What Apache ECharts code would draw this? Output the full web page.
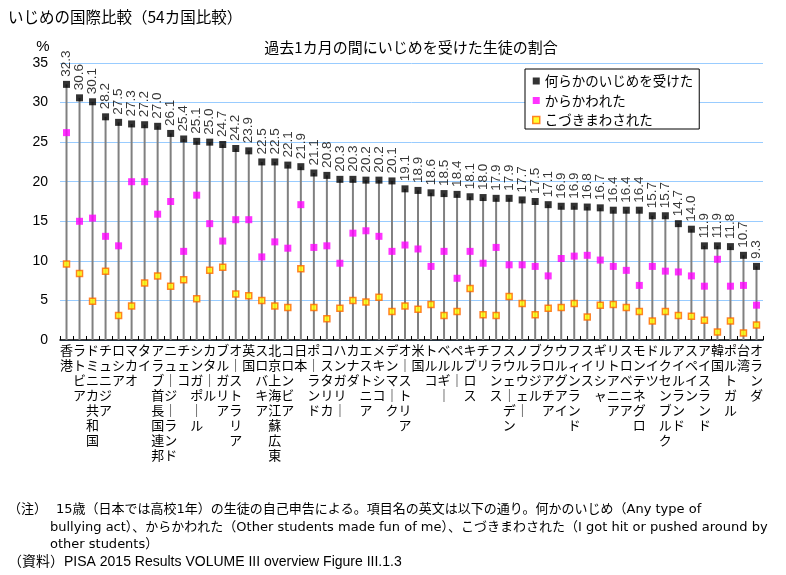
<!DOCTYPE html>
<html>
<head>
<meta charset="utf-8">
<script src="https://cdn.jsdelivr.net/npm/echarts@6/dist/echarts.min.js"></script>
<style>
html,body{margin:0;padding:0;background:#fff;}
#c{width:786px;height:575px;}
</style>
</head>
<body>
<div id="c"></div>
<script>
const categories = ['香港','ラトビア','ドミニカ共和国','チュニジア','ロシア','マカオ','タイ','アラブ首長国連邦','ニュージーランド','チェコ','シンガポール','カタール','ブルガリア','オーストラリア','英国','スロバキア','北京上海江蘇広東','コロンビア','日本','ポーランド','コスタリカ','ハンガリー','カナダ','エストニア','メキシコ','デンマーク','オーストリア','米国','トルコ','ベルギー','ペルー','キプロス','チリ','フランス','スウェーデン','ノルウェー','ブラジル','クロアチア','ウルグアイ','フィンランド','スイス','ギリシャ','リトアニア','スロベニア','モンテネグロ','ドイツ','ルクセンブルク','アイルランド','スペイン','アイスランド','韓国','ポルトガル','台湾','オランダ'];
const anyBullying = [32.3,30.6,30.1,28.2,27.5,27.3,27.2,27.0,26.1,25.4,25.1,25.0,24.7,24.2,23.9,22.5,22.5,22.1,21.9,21.1,20.8,20.3,20.3,20.2,20.2,20.1,19.1,18.9,18.6,18.5,18.4,18.1,18.0,17.9,17.9,17.7,17.5,17.1,16.9,16.9,16.8,16.7,16.4,16.4,16.4,15.7,15.7,14.7,14.0,11.9,11.9,11.8,10.7,9.3];
const madeFun = [26.2,15.0,15.4,13.1,11.9,20.0,20.0,15.9,17.5,11.2,18.3,14.7,12.5,15.2,15.2,10.5,12.4,11.6,17.1,11.7,11.9,9.7,13.5,13.8,13.1,11.2,12.0,11.5,9.3,11.2,7.8,11.2,9.7,11.7,9.5,9.5,9.3,8.1,10.3,10.6,10.7,10.1,9.3,8.8,6.9,9.3,8.7,8.6,8.1,6.8,10.2,6.8,6.9,4.4];
const hitPushed = [9.6,8.4,4.9,8.7,3.1,4.3,7.2,8.1,6.8,7.6,5.2,8.8,9.2,5.8,5.6,5.0,4.3,4.1,9.0,4.1,2.7,4.0,5.0,4.8,5.4,3.6,4.3,3.9,4.5,3.1,3.6,6.5,3.2,3.1,5.5,4.6,3.2,4.0,4.1,4.6,2.9,4.4,4.5,4.1,3.6,2.4,3.6,3.1,3.0,2.5,1.0,2.4,0.9,1.9];
const seriesNames = ['何らかのいじめを受けた','からかわれた','こづきまわされた'];
const yTicks = {min:0, max:35, interval:5};

const FONT = '"Liberation Sans","Noto Sans CJK JP",sans-serif';
const JFONT = '"Noto Sans CJK JP",sans-serif';
const NFONT = '13px "DejaVu Sans","Noto Sans CJK JP"';

const chart = echarts.init(document.getElementById('c'), null, {renderer:'canvas'});
chart.setOption({
  animation:false,
  backgroundColor:'#fff',
  textStyle:{fontFamily:FONT},
  grid:{left:60, right:23, top:63, bottom:235, containLabel:false},
  legend:{
    orient:'vertical', left:525, top:69,
    padding:[5,6,2,7], itemGap:5.5,
    itemWidth:7, itemHeight:7,
    backgroundColor:'#fff', borderColor:'#000', borderWidth:1, borderRadius:0,
    textStyle:{fontFamily:JFONT, fontSize:13.5, color:'#000', lineHeight:14},
    data:[
      {name:seriesNames[0], icon:'rect'},
      {name:seriesNames[1], icon:'rect'},
      {name:seriesNames[2], icon:'rect', itemStyle:{color:'#ffff00', borderColor:'#ff6600', borderWidth:1.5}}
    ]
  },
  xAxis:{
    type:'category', data:categories, boundaryGap:true,
    axisLine:{lineStyle:{color:'#000', width:1.5}},
    axisTick:{show:true, inside:true, length:4, interval:0, lineStyle:{color:'#000'}},
    axisLabel:{interval:0, margin:3, fontFamily:JFONT, fontSize:13, lineHeight:15, color:'#000',
      verticalAlign:'top',
      formatter:v => v.split('').map(c => c === 'ー' ? '｜' : c).join('\n')}
  },
  yAxis:{
    type:'value', min:yTicks.min, max:yTicks.max, interval:yTicks.interval,
    axisLine:{show:false}, axisTick:{show:false},
    axisLabel:{fontSize:14, color:'#000', margin:12, fontFamily:FONT},
    splitLine:{lineStyle:{color:'#99ccff', width:1}}
  },
  graphic:[
    {type:'text', left:8, top:9, style:{text:'いじめの国際比較（54カ国比較）', font:'15.5px "Noto Sans CJK JP"', fill:'#000'}},
    {type:'text', x:411, y:47, style:{text:'過去1カ月の間にいじめを受けた生徒の割合', font:'15px "Noto Sans CJK JP"', fill:'#000', textAlign:'center', textVerticalAlign:'middle'}},
    {type:'text', x:43, y:47, style:{text:'%', font:'15px "Liberation Sans"', fill:'#000', textAlign:'center', textVerticalAlign:'middle'}},
    {type:'text', x:8, y:510, style:{text:'（注）', font:NFONT, fill:'#000', textVerticalAlign:'middle'}},
    {type:'text', x:56, y:510, style:{text:'15歳（日本では高校1年）の生徒の自己申告による。項目名の英文は以下の通り。何かのいじめ（Any type of', font:NFONT, fill:'#000', textVerticalAlign:'middle'}},
    {type:'text', x:50, y:528, style:{text:'bullying act）、からかわれた（Other students made fun of me）、こづきまわされた（I got hit or pushed around by', font:NFONT, fill:'#000', textVerticalAlign:'middle'}},
    {type:'text', x:50, y:545, style:{text:'other students）', font:NFONT, fill:'#000', textVerticalAlign:'middle'}},
    {type:'text', x:8, y:562, style:{text:'（資料）PISA 2015 Results VOLUME III overview Figure III.1.3', font:'14px "Liberation Sans","Noto Sans CJK JP"', fill:'#000', textVerticalAlign:'middle'}}
  ],
  series:[
    {type:'bar', name:'drop', data:anyBullying, barWidth:2, itemStyle:{color:'#808080'}, silent:true, z:1},
    {type:'scatter', name:seriesNames[0], data:anyBullying, symbol:'rect', symbolSize:7,
      itemStyle:{color:'#000'}, z:3,
      label:{show:true, position:'top', rotate:90, align:'left', verticalAlign:'middle', distance:4,
        fontSize:13.5, color:'#000', fontFamily:FONT, formatter:p => p.value.toFixed(1)}},
    {type:'scatter', name:seriesNames[1], data:madeFun, symbol:'rect', symbolSize:7,
      itemStyle:{color:'#ff00ff'}, z:4},
    {type:'scatter', name:seriesNames[2], data:hitPushed, symbol:'rect', symbolSize:6,
      itemStyle:{color:'#ffff00', borderColor:'#ff6600', borderWidth:1.5}, z:5}
  ]
});
</script>
</body>
</html>
